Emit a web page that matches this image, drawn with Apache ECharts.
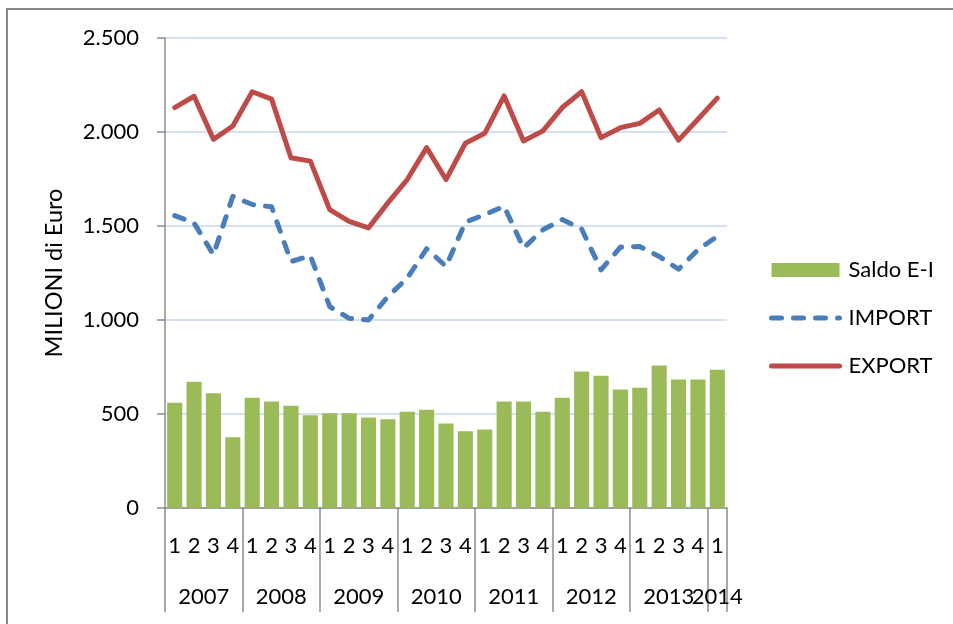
<!DOCTYPE html>
<html>
<head>
<meta charset="utf-8">
<title>Saldo E-I, IMPORT, EXPORT</title>
<script src="https://cdn.jsdelivr.net/npm/echarts@6/dist/echarts.min.js"></script>
<style>
  html, body { margin: 0; padding: 0; background: #fff; }
  #chart { width: 953px; height: 624px; }
</style>
</head>
<body>
<div id="chart"></div>
<script>
// quarters 2007 Q1 .. 2014 Q1
const quarters = ['1', '2', '3', '4', '1', '2', '3', '4', '1', '2', '3', '4', '1', '2', '3', '4',
  '1', '2', '3', '4', '1', '2', '3', '4', '1', '2', '3', '4', '1'];
const years = ['2007', '2008', '2009', '2010', '2011', '2012', '2013', '2014'];
const quartersPerYear = [4, 4, 4, 4, 4, 4, 4, 1];

const saldo = [560, 672, 610, 376, 587, 566, 544, 493, 504, 504, 482, 472, 512, 523, 450,
  408, 418, 566, 566, 512, 587, 726, 704, 630, 640, 758, 683, 683, 736];
const importV = [1555, 1516, 1347, 1658, 1614, 1602, 1311, 1342, 1071, 1009, 1000, 1125, 1222, 1379, 1285,
  1520, 1561, 1605, 1383, 1480, 1534, 1484, 1267, 1388, 1391, 1338, 1270, 1374, 1445];
const exportV = [2130, 2190, 1961, 2032, 2214, 2175, 1863, 1845, 1587, 1525, 1490, 1623, 1747, 1917, 1747,
  1940, 1993, 2192, 1952, 2006, 2130, 2214, 1970, 2023, 2046, 2117, 1957, 2068, 2180];

const yTicks = [0, 500, 1000, 1500, 2000, 2500];

// year boundaries and centres on a 0..29 scale
const yearEdges = [0];
const yearCenters = [];
quartersPerYear.forEach(function (n) {
  const start = yearEdges[yearEdges.length - 1];
  yearCenters.push(start + n / 2);
  yearEdges.push(start + n);
});

const FONT = 'Lato';
const GREY = '#8c8c8c';
const GREEN = '#9bbb59';
const BLUE = '#4a7ebb';
const RED = '#be4b48';
const DASH = [10, 12];

function fmtIt(v) {
  return String(v).replace(/\B(?=(\d{3})+(?!\d))/g, '.');
}

function yearLabel(v) {
  const i = yearCenters.indexOf(v);
  return i >= 0 ? years[i] : '';
}

// two label axes so overlapping year labels (2013 / 2014) both stay visible
function yearAxis(centers, withTicks) {
  return {
    type: 'value',
    min: 0,
    max: quarters.length,
    position: 'bottom',
    axisLine: { show: false },
    splitLine: { show: false },
    axisTick: {
      show: withTicks,
      length: 104,
      customValues: yearEdges,
      lineStyle: { color: GREY, width: 1.5 }
    },
    axisLabel: {
      customValues: centers,
      margin: 78,
      fontSize: 22,
      color: '#000',
      fontFamily: FONT,
      hideOverlap: false,
      formatter: yearLabel
    }
  };
}

const myChart = echarts.init(document.getElementById('chart'));
const option = {
  animation: false,
  textStyle: { fontFamily: FONT },
  graphic: [{
    type: 'rect',
    shape: { x: 7, y: 9, width: 1200, height: 1200 },
    style: { fill: 'none', stroke: '#878787', lineWidth: 2 },
    z: 100
  }],
  grid: { left: 165, right: 226, top: 38, bottom: 116 },
  legend: {
    orient: 'vertical',
    left: 764,
    top: 253,
    itemWidth: 68,
    itemHeight: 14,
    itemGap: 24,
    textStyle: { fontFamily: FONT, fontSize: 22, color: '#000', lineHeight: 24, padding: [0, 0, 0, 4] },
    data: [
      { name: 'Saldo E-I', icon: 'rect' },
      { name: 'IMPORT', itemStyle: { opacity: 0 }, lineStyle: { color: BLUE, width: 5, type: DASH, cap: 'round' } },
      { name: 'EXPORT', itemStyle: { opacity: 0 }, lineStyle: { color: RED, width: 5, cap: 'round' } }
    ]
  },
  xAxis: [{
    type: 'category',
    data: quarters,
    position: 'bottom',
    axisLine: { show: true, lineStyle: { color: GREY, width: 1.5 } },
    axisTick: { show: false },
    axisLabel: { interval: 0, margin: 27, fontSize: 22, color: '#000', fontFamily: FONT }
  },
  yearAxis(yearCenters.slice(0, -1), true),
  yearAxis(yearCenters.slice(-1), false)
  ],
  yAxis: {
    type: 'value',
    min: yTicks[0],
    max: yTicks[yTicks.length - 1],
    interval: 500,
    name: 'MILIONI di Euro',
    nameLocation: 'middle',
    nameRotate: 90,
    nameGap: 99,
    nameTextStyle: { fontSize: 23.5, color: '#000', fontFamily: FONT },
    axisLine: { show: true, lineStyle: { color: GREY, width: 1.5 } },
    axisTick: { show: true, length: 8, lineStyle: { color: GREY, width: 1.5 } },
    axisLabel: { margin: 26, fontSize: 22, color: '#000', fontFamily: FONT, formatter: fmtIt },
    splitLine: { show: true, lineStyle: { color: '#c9d6ef', width: 1.5 } }
  },
  series: [{
    name: 'Saldo E-I',
    type: 'bar',
    xAxisIndex: 0,
    data: saldo,
    barCategoryGap: '22%',
    itemStyle: { color: GREEN }
  }, {
    name: 'IMPORT',
    type: 'line',
    xAxisIndex: 0,
    data: importV,
    symbol: 'none',
    itemStyle: { color: BLUE },
    lineStyle: { color: BLUE, width: 5, type: DASH, cap: 'round', join: 'round' }
  }, {
    name: 'EXPORT',
    type: 'line',
    xAxisIndex: 0,
    data: exportV,
    symbol: 'none',
    itemStyle: { color: RED },
    lineStyle: { color: RED, width: 5, cap: 'round', join: 'round' }
  }]
};
myChart.setOption(option);
window.onresize = function () {
  myChart.resize();
};
</script>
</body>
</html>
